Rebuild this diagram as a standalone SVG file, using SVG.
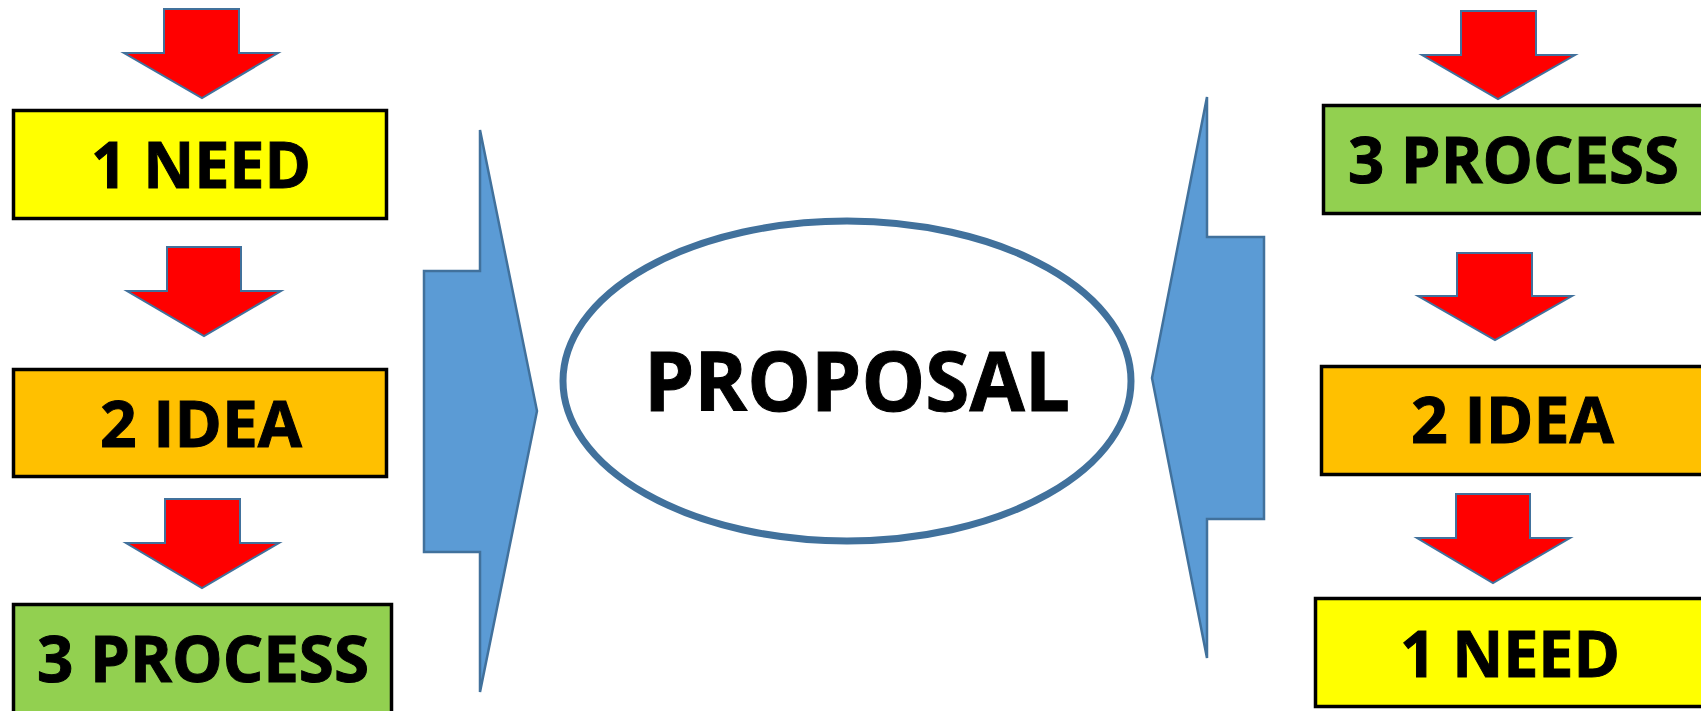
<svg xmlns="http://www.w3.org/2000/svg" width="1701" height="711" viewBox="0 0 1701 711">
<style>
.box{stroke:#000;stroke-width:3.5}
.need{fill:#FFFF00}
.idea{fill:#FFC000}
.proc{fill:#92D050}
.lbl{font-family:"Open Sans","Liberation Sans",sans-serif;font-weight:bold;font-size:65px;fill:#000;stroke:#000;stroke-width:1}
.big{font-size:83px}
.red{fill:#FF0000;stroke:#41719C;stroke-width:2;stroke-linejoin:miter}
.blue{fill:#5B9BD5;stroke:#41719C;stroke-width:2.5}
</style>
<rect width="1701" height="711" fill="#fff"/>
<g id="connectors">
<polygon class="red" points="164,9 239,9 239,53 278,53 202,98 124,53 164,53"/>
<polygon class="red" points="167,247 241,247 241,291 281,291 204,336 127,291 167,291"/>
<polygon class="red" points="165,499 240,499 240,543 279,543 202,588 126,543 165,543"/>
<polygon class="red" points="1461,11 1536,11 1536,55 1575,55 1498,99 1422,55 1461,55"/>
<polygon class="red" points="1457,253 1532,253 1532,296 1572,296 1495,340 1418,296 1457,296"/>
<polygon class="red" points="1456,494 1530,494 1530,538 1570,538 1493,583 1417,538 1456,538"/>
<polygon class="blue" points="480,130 537,411 480,692 480,552 424,552 424,271 480,271"/>
<polygon class="blue" points="1207,97 1152,378 1207,658 1207,519 1264,519 1264,237 1207,237"/>
</g>
<g id="need-left">
<rect class="box need" x="13.5" y="110.5" width="373" height="108"/>
<text class="lbl" x="91" y="188" textLength="220" lengthAdjust="spacingAndGlyphs">1 NEED</text>
</g>
<g id="idea-left">
<rect class="box idea" x="13.5" y="369.5" width="373" height="107"/>
<text class="lbl" x="100" y="447" textLength="202" lengthAdjust="spacingAndGlyphs">2 IDEA</text>
</g>
<g id="process-left">
<rect class="box proc" x="13.5" y="604.5" width="378" height="120"/>
<text class="lbl" x="37" y="682" textLength="332" lengthAdjust="spacingAndGlyphs">3 PROCESS</text>
</g>
<g id="proposal">
<ellipse cx="847" cy="381" rx="284" ry="160" fill="#fff" stroke="#41719C" stroke-width="7"/>
<text class="lbl big" x="644" y="411" textLength="426" lengthAdjust="spacingAndGlyphs">PROPOSAL</text>
</g>
<g id="process-right">
<rect class="box proc" x="1323.5" y="105.5" width="400" height="108"/>
<text class="lbl" x="1348" y="183" textLength="331" lengthAdjust="spacingAndGlyphs">3 PROCESS</text>
</g>
<g id="idea-right">
<rect class="box idea" x="1321.5" y="366.5" width="400" height="108"/>
<text class="lbl" x="1411" y="443" textLength="203" lengthAdjust="spacingAndGlyphs">2 IDEA</text>
</g>
<g id="need-right">
<rect class="box need" x="1315.5" y="598.5" width="400" height="108"/>
<text class="lbl" x="1400" y="677" textLength="220" lengthAdjust="spacingAndGlyphs">1 NEED</text>
</g>
</svg>
